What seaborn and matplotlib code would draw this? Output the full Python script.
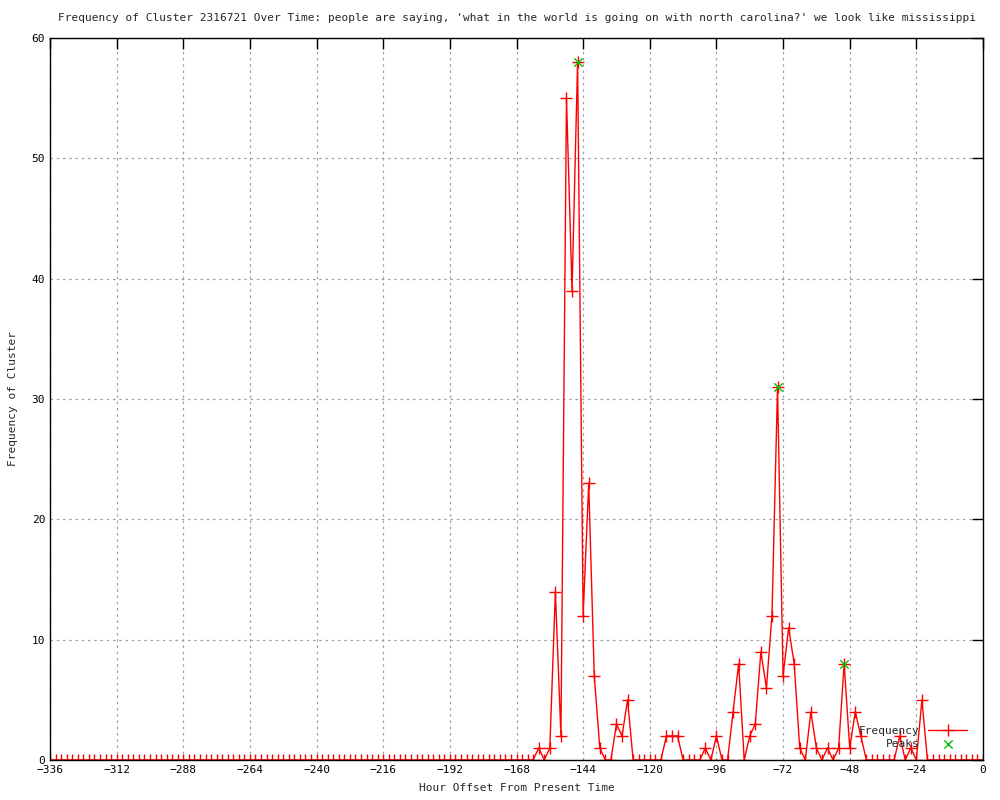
import numpy as np
import pandas as pd
import matplotlib
matplotlib.use("Agg")
import matplotlib.pyplot as plt
import seaborn as sns

sns.set_theme(style="white")
plt.rcParams["font.family"] = ["DejaVu Sans Mono"]

# hourly offsets, one sample every 2 hours
hours = list(range(-336, 1, 2))

# non-zero frequencies, everything else is 0
nonzero = {
    -160: 1, -156: 1, -154: 14, -152: 2, -150: 55, -148: 39, -146: 58,
    -144: 12, -142: 23, -140: 7, -138: 1, -132: 3, -130: 2, -128: 5,
    -114: 2, -112: 2, -110: 2, -100: 1, -96: 2, -90: 4, -88: 8,
    -84: 2, -82: 3, -80: 9, -78: 6, -76: 12, -74: 31, -72: 7,
    -70: 11, -68: 8, -66: 1, -62: 4, -60: 1, -56: 1, -52: 1,
    -50: 8, -48: 1, -46: 4, -44: 2, -30: 2, -26: 1, -22: 5,
}
freq = [nonzero.get(h, 0) for h in hours]

peak_hours = [-146, -74, -50]
peak_vals = [58, 31, 8]

df = pd.DataFrame({"Hour": hours, "Frequency": freq})
peaks = pd.DataFrame({"Hour": peak_hours, "Frequency": peak_vals})

fig = plt.figure(figsize=(10, 8), dpi=100)
ax = fig.add_axes([0.05, 0.05, 0.933, 0.9025])

sns.lineplot(data=df, x="Hour", y="Frequency", ax=ax, color="red",
             linewidth=1.0, marker="+", markersize=8, markeredgewidth=1.0,
             markeredgecolor="red", label="Frequency")
sns.scatterplot(data=peaks, x="Hour", y="Frequency", ax=ax, color="#00c000",
                marker="x", s=36, linewidth=1.0, label="Peaks", zorder=5)

ax.set_xlim(-336, 0)
ax.set_ylim(0, 60)
ax.set_xticks(range(-336, 1, 24))
ax.set_yticks(range(0, 61, 10))
ax.grid(True, color="#a0a0a0", linestyle=(0, (2, 3)), linewidth=0.9)
ax.tick_params(direction="in", length=8, width=1, top=True, right=True,
               labelsize=8, colors="black")
for s in ax.spines.values():
    s.set_color("black")
    s.set_linewidth(1.0)

ax.set_title("Frequency of Cluster 2316721 Over Time: people are saying, "
             "'what in the world is going on with north carolina?' we look like mississippi",
             fontsize=8, pad=12)
ax.set_xlabel("Hour Offset From Present Time", fontsize=8, labelpad=6)
ax.set_ylabel("Frequency of Cluster", fontsize=8, labelpad=10)

leg = ax.legend(loc="lower right", bbox_to_anchor=(0.995, 0.0), frameon=False,
                fontsize=8, markerfirst=False, handlelength=3.5,
                borderaxespad=0.6, labelspacing=0.3)

fig.savefig("out.png", dpi=100)
